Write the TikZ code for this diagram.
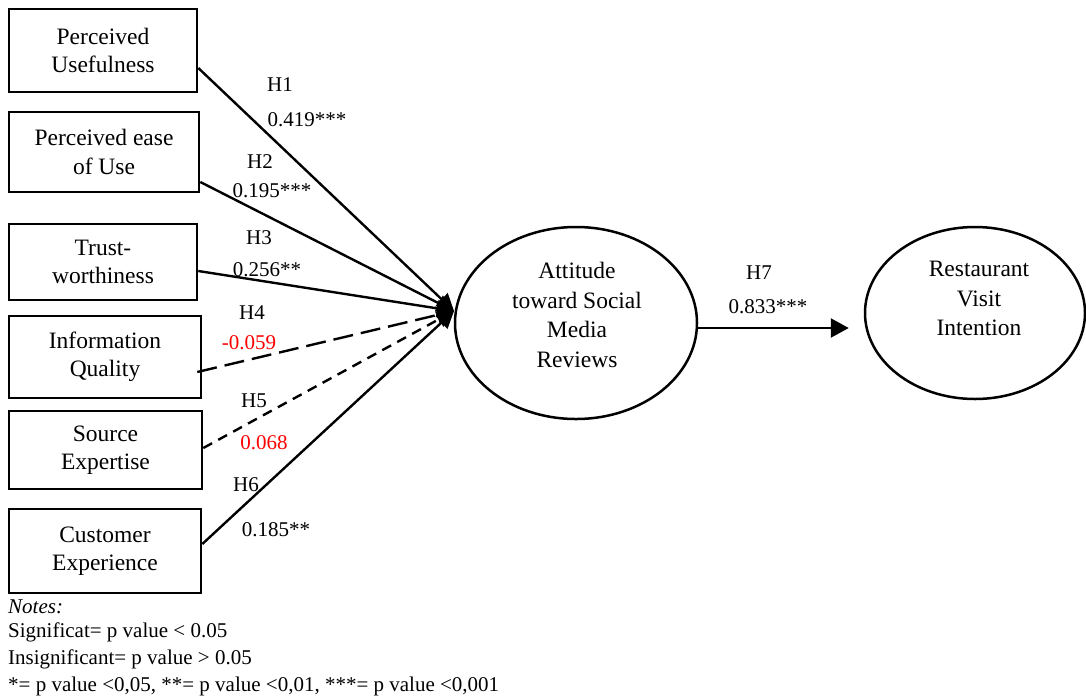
\documentclass[tikz,border=0pt]{standalone}
\usepackage{fontspec}
\setmainfont{Liberation Serif}
\usetikzlibrary{arrows.meta,shapes.geometric}
\begin{document}
\begin{tikzpicture}[x=1pt,y=-1pt,
  box/.style={draw,line width=2.6pt,inner sep=0pt,align=center,font=\fontsize{23.5}{28.5}\selectfont},
  oval/.style={draw,ellipse,line width=2.5pt,inner sep=0pt},
  otext/.style={align=center,inner sep=0pt,font=\fontsize{23.5}{29.5}\selectfont},
  lbl/.style={font=\fontsize{21}{25}\selectfont,inner sep=0pt},
  redlbl/.style={lbl,text=red},
  conn/.style={line width=2.4pt,-{Triangle[length=17pt,width=17pt]}},
  longdash/.style={dash pattern=on 20pt off 8pt},
  shortdash/.style={dash pattern=on 10pt off 7pt}]
\useasboundingbox (0,0) rectangle (1086,697);

% boxes
\node[box,minimum width=188pt,minimum height=83pt] (b1) at (103,50.5) {Perceived\\Usefulness};
\node[box,minimum width=190pt,minimum height=80pt] (b2) at (104,152) {Perceived ease\\of Use};
\node[box,minimum width=188pt,minimum height=76pt] (b3) at (103,262) {Trust-\\worthiness};
\node[box,minimum width=192pt,minimum height=82pt] (b4) at (105,357) {Information\\Quality};
\node[box,minimum width=193pt,minimum height=78pt] (b5) at (105.5,450) {Source\\Expertise};
\node[box,minimum width=192pt,minimum height=84pt] (b6) at (105,551) {Customer\\Experience};

% ellipses
\node[oval,minimum width=242pt,minimum height=192pt] (att) at (576,323) {};
\node[otext] (atttext) at (577,315) {Attitude\\toward Social\\Media\\Reviews};
\node[oval,minimum width=220pt,minimum height=172pt] (rvi) at (975,313) {};
\node[otext] (rvitext) at (979,298.5) {Restaurant\\Visit\\Intention};

\coordinate (tip) at (454,311);

% connectors
\draw[conn] ([yshift=-17.5pt]b1.east) -- (tip);
\draw[conn] ([yshift=-30pt]b2.east) -- (tip);
\draw[conn] ([yshift=-9pt]b3.east) -- (tip);
\draw[conn,longdash] ([yshift=-15pt,xshift=-5pt]b4.east) -- (tip);
\draw[conn,shortdash] ([yshift=2pt]b5.east) -- (tip);
\draw[conn] ([yshift=7pt]b6.east) -- (tip);
\draw[conn,-{Triangle[length=18pt,width=19pt]}] ([yshift=-5pt]att.east) -- ([xshift=-15pt,yshift=-15pt]rvi.west);

% labels
\node[lbl] (h1) at (280,85) {H1};
\node[lbl] (v1) at (307,120) {0.419***};
\node[lbl] (h2) at (260,162) {H2};
\node[lbl] (v2) at (272,191) {0.195***};
\node[lbl] (h3) at (259,238) {H3};
\node[lbl] (v3) at (267,270) {0.256**};
\node[lbl] (h4) at (252,313) {H4};
\node[redlbl] (v4) at (249,343) {-0.059};
\node[lbl] (h5) at (254,401) {H5};
\node[redlbl] (v5) at (264,443) {0.068};
\node[lbl] (h6) at (246,485) {H6};
\node[lbl] (v6) at (276,530) {0.185**};
\node[lbl] (h7) at (759,273) {H7};
\node[lbl] (v7) at (768,307) {0.833***};

% notes
\node[lbl,anchor=west] (n0) at (8,607) {\itshape Notes:};
\node[lbl,anchor=west] (n1) at (8,632) {Significat= p value {<} 0.05};
\node[lbl,anchor=west] (n2) at (8,659) {Insignificant= p value {>} 0.05};
\node[lbl,anchor=west] (n3) at (8,686) {*= p value {<}0,05, **= p value {<}0,01, ***= p value {<}0,001};
\end{tikzpicture}
\end{document}
